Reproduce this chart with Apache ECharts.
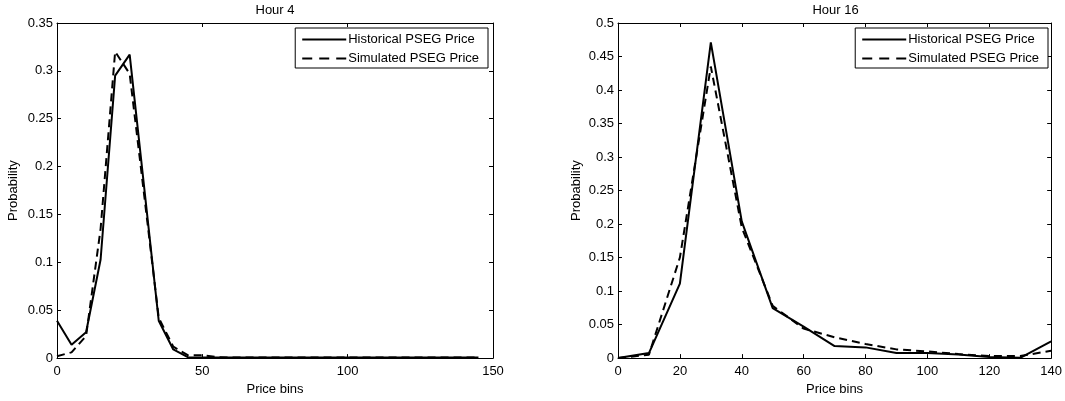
<!DOCTYPE html>
<html>
<head>
<meta charset="utf-8">
<script src="https://cdn.jsdelivr.net/npm/echarts@6/dist/echarts.min.js"></script>
<style>
  html, body { margin: 0; padding: 0; background: #fff; }
  #chart { width: 1065px; height: 401px; }
</style>
</head>
<body>
<div id="chart"></div>
<script>
// Price bins and probability distributions, hour 4 (left) and hour 16 (right)
const binsHour4 = [0, 5, 10, 15, 20, 25, 30, 35, 40, 45, 50, 55, 60, 65, 70, 75, 80, 85, 90, 95,
                   100, 105, 110, 115, 120, 125, 130, 135, 140, 145];
const histHour4 = [0.039, 0.014, 0.027, 0.103, 0.295, 0.317, 0.178, 0.039, 0.009, 0.001, 0.0005, 0.0005,
                   0.0005, 0.0005, 0.0005, 0.0005, 0.0005, 0.0005, 0.0005, 0.0005, 0.0005, 0.0005,
                   0.0005, 0.0005, 0.0005, 0.0005, 0.0005, 0.0005, 0.0005, 0.0005];
const simHour4 = [0.002, 0.006, 0.023, 0.135, 0.320, 0.297, 0.170, 0.042, 0.012, 0.003, 0.003, 0.001,
                  0.0005, 0.0005, 0.0005, 0.0005, 0.0005, 0.0005, 0.0005, 0.0005, 0.0005, 0.0005,
                  0.0005, 0.0005, 0.0005, 0.0005, 0.0005, 0.0005, 0.0005, 0.0005];

const binsHour16 = [0, 10, 20, 30, 40, 50, 60, 70, 80, 90, 100, 110, 120, 130, 140];
const histHour16 = [0, 0.0075, 0.111, 0.471, 0.204, 0.0745, 0.047, 0.018, 0.016, 0.0075, 0.0075,
                    0.0055, 0.0015, 0.0005, 0.025];
const simHour16 = [0, 0.005, 0.150, 0.435, 0.195, 0.078, 0.044, 0.031, 0.021, 0.013, 0.010,
                   0.006, 0.003, 0.003, 0.011];

const panelTitles = ['Hour 4', 'Hour 16'];
const seriesNames = ['Historical PSEG Price', 'Simulated PSEG Price'];
const xAxisName = 'Price bins';
const yAxisName = 'Probability';

const FONT = 'Liberation Sans, Arial, Helvetica, sans-serif';
const FS = 13;
const toPoints = (xs, ys) => xs.map((x, i) => [x, ys[i]]);

const chart = echarts.init(document.getElementById('chart'), null, { renderer: 'canvas' });

const grids = [
  { left: 57, top: 23, width: 436, height: 339 },
  { left: 618, top: 23, width: 435, height: 338 }
];

const axisLine = { show: true, onZero: false, lineStyle: { color: '#000', width: 1 } };
const tickIn = { show: true, inside: true, length: 4, lineStyle: { color: '#000', width: 1 } };
const labelStyle = { color: '#000', fontSize: FS, fontFamily: FONT };
const nameStyle = { color: '#000', fontSize: FS, fontFamily: FONT };

function xAxes(gridIndex, max, interval) {
  return [
    { type: 'value', gridIndex, position: 'bottom', min: 0, max, interval,
      axisLine, axisTick: tickIn, splitLine: { show: false },
      axisLabel: Object.assign({ margin: 7 }, labelStyle),
      name: xAxisName, nameLocation: 'middle', nameGap: 20, nameTextStyle: nameStyle },
    { type: 'value', gridIndex, position: 'top', min: 0, max, interval,
      axisLine, axisTick: tickIn, splitLine: { show: false }, axisLabel: { show: false } }
  ];
}
function yAxes(gridIndex, max, nameGap) {
  return [
    { type: 'value', gridIndex, position: 'left', min: 0, max, interval: 0.05,
      axisLine, axisTick: tickIn, splitLine: { show: false },
      axisLabel: Object.assign({ margin: 4, formatter: v => String(+v.toFixed(2)) }, labelStyle),
      name: yAxisName, nameLocation: 'middle', nameGap, nameRotate: 90, nameTextStyle: nameStyle },
    { type: 'value', gridIndex, position: 'right', min: 0, max, interval: 0.05,
      axisLine, axisTick: tickIn, splitLine: { show: false }, axisLabel: { show: false } }
  ];
}

function lineSeries(name, data, xi, yi, dashed) {
  return {
    name, type: 'line', data, xAxisIndex: xi, yAxisIndex: yi,
    showSymbol: false, symbol: 'none', silent: true, animation: false,
    itemStyle: { color: '#000' },
    lineStyle: { color: '#000', width: 2, type: dashed ? [8, 5] : 'solid' },
    z: dashed ? 3 : 2
  };
}

// Legend entries: solid sample, then a three-dash sample for the simulated series
function legendItems(suffix) {
  return [
    { name: seriesNames[0] + suffix },
    { name: seriesNames[1] + suffix, lineStyle: { type: [10, 7] } }
  ];
}

function legendAt(right, top) {
  return {
    orient: 'vertical', right, top,
    backgroundColor: '#fff', borderColor: '#000', borderWidth: 1,
    padding: [5, 9, 3, 6], itemGap: 6, itemWidth: 44, itemHeight: 14,
    itemStyle: { opacity: 0 },
    textStyle: { color: '#000', fontSize: FS, fontFamily: FONT, padding: [0, 0, 0, -3] },
    selectedMode: false
  };
}

const option = {
  backgroundColor: '#fff',
  animation: false,
  textStyle: { fontFamily: FONT },
  grid: grids,
  xAxis: [...xAxes(0, 150, 50), ...xAxes(1, 140, 20)],
  yAxis: [...yAxes(0, 0.35, 37), ...yAxes(1, 0.5, 35)],
  legend: [
    Object.assign(legendAt(1065 - 488, 28), { data: legendItems('') }),
    Object.assign(legendAt(1065 - 1048, 28), { data: legendItems(' '), formatter: n => n.trim() })
  ],
  series: [
    lineSeries(seriesNames[0], toPoints(binsHour4, histHour4), 0, 0, false),
    lineSeries(seriesNames[1], toPoints(binsHour4, simHour4), 0, 0, true),
    lineSeries(seriesNames[0] + ' ', toPoints(binsHour16, histHour16), 2, 2, false),
    lineSeries(seriesNames[1] + ' ', toPoints(binsHour16, simHour16), 2, 2, true)
  ],
  graphic: [
    { type: 'text', x: 275, y: 10,
      style: { text: panelTitles[0], fontSize: FS, fontFamily: FONT, fill: '#000',
               align: 'center', verticalAlign: 'middle' } },
    { type: 'text', x: 835.5, y: 10,
      style: { text: panelTitles[1], fontSize: FS, fontFamily: FONT, fill: '#000',
               align: 'center', verticalAlign: 'middle' } }
  ]
};

chart.setOption(option);
</script>
</body>
</html>
